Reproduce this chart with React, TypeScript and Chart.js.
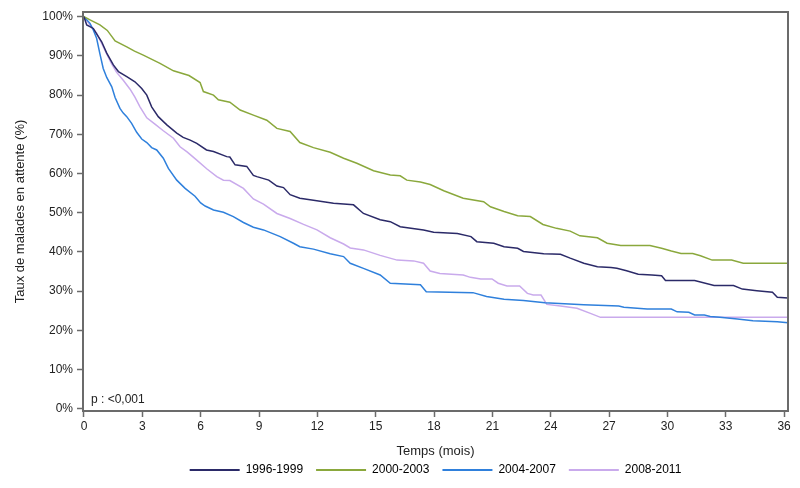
import React, { useEffect, useRef } from 'react';
import Chart from 'chart.js/auto';

// Kaplan-Meier style curves: month -> % still waiting
const months1996 = [0, 0.14, 0.48, 0.74, 0.91, 1.17, 1.51, 1.77, 2.2, 2.62, 2.97, 3.23, 3.48, 3.82, 4.26, 4.77, 5.1, 5.46, 5.8, 6.3, 6.66, 7.34, 7.5, 7.77, 8.37, 8.71, 8.89, 9.5, 9.92, 10.26, 10.6, 11.1, 11.8, 12.83, 13.86, 14.37, 15.23, 15.75, 16.26, 17.46, 17.98, 19.2, 19.9, 20.2, 21.07, 21.6, 22.3, 22.6, 23.64, 24.5, 25.0, 25.7, 26.4, 27.1, 27.4, 27.9, 28.5, 29.2, 29.7, 29.9, 31.4, 32.4, 33.4, 33.85, 34.6, 35.4, 35.65, 36.2];
const pct1996 = [100, 97.9, 97.0, 94.9, 93.6, 90.7, 87.7, 86.0, 84.7, 83.4, 81.7, 80.0, 77.0, 74.5, 72.4, 70.3, 69.2, 68.5, 67.7, 66.0, 65.6, 64.3, 64.2, 62.2, 61.8, 59.5, 59.2, 58.3, 56.8, 56.4, 54.6, 53.7, 53.2, 52.4, 52.0, 49.8, 48.2, 47.7, 46.4, 45.6, 45.0, 44.7, 43.9, 42.6, 42.2, 41.3, 40.9, 40.1, 39.5, 39.4, 38.4, 37.1, 36.2, 36.0, 35.8, 35.2, 34.3, 34.1, 33.9, 32.7, 32.7, 31.4, 31.4, 30.5, 30.1, 29.7, 28.4, 28.2];

const months2000 = [0, 0.31, 0.82, 1.2, 1.6, 2.2, 2.6, 3.05, 3.91, 4.6, 5.4, 5.97, 6.14, 6.66, 6.91, 7.5, 8.03, 8.71, 9.4, 9.92, 10.6, 11.1, 11.8, 12.66, 13.35, 14.03, 14.89, 15.75, 16.26, 16.6, 17.3, 17.8, 18.5, 19.5, 20.55, 20.9, 21.6, 22.3, 22.95, 23.6, 24.3, 25.0, 25.5, 26.4, 26.9, 27.6, 29.1, 29.7, 30.2, 30.7, 31.3, 31.7, 32.3, 33.3, 33.9, 36.2];
const pct2000 = [100, 99.2, 97.9, 96.5, 93.8, 92.3, 91.2, 90.2, 88.1, 86.2, 85.0, 83.2, 80.9, 80.0, 78.8, 78.2, 76.2, 74.9, 73.6, 71.5, 70.7, 67.9, 66.6, 65.4, 63.9, 62.6, 60.7, 59.6, 59.4, 58.3, 57.8, 57.2, 55.6, 53.7, 52.8, 51.5, 50.3, 49.2, 49.0, 47.0, 46.0, 45.3, 44.1, 43.6, 42.2, 41.6, 41.6, 40.9, 40.2, 39.6, 39.6, 39.0, 37.9, 37.9, 37.1, 37.1];

const months2004 = [0, 0.31, 0.48, 0.65, 0.82, 0.99, 1.17, 1.43, 1.6, 1.85, 2.02, 2.2, 2.45, 2.71, 2.97, 3.23, 3.48, 3.74, 4.08, 4.34, 4.77, 5.2, 5.71, 6.0, 6.23, 6.66, 7.17, 7.68, 8.2, 8.71, 9.23, 10.09, 10.77, 11.1, 11.8, 12.66, 13.35, 13.69, 14.37, 15.23, 15.75, 17.3, 17.6, 20.0, 20.7, 21.6, 22.6, 23.7, 25.7, 27.5, 27.76, 28.96, 30.2, 30.5, 31.1, 31.4, 31.9, 32.2, 32.7, 33.6, 34.4, 35.65, 36.2];
const pct2004 = [100, 98.3, 96.6, 94.5, 90.5, 86.8, 84.5, 82.1, 79.4, 76.6, 75.4, 74.5, 72.8, 70.5, 68.8, 67.9, 66.6, 66.0, 63.9, 61.3, 58.3, 56.2, 54.2, 52.5, 51.7, 50.7, 50.1, 49.0, 47.5, 46.3, 45.6, 43.9, 42.2, 41.3, 40.7, 39.5, 38.8, 37.1, 35.8, 34.1, 32.0, 31.6, 29.8, 29.6, 28.6, 27.9, 27.6, 27.0, 26.5, 26.2, 25.9, 25.4, 25.4, 24.7, 24.6, 23.9, 23.9, 23.5, 23.3, 22.9, 22.4, 22.2, 21.9];

const months2008 = [0, 0.31, 0.65, 0.91, 1.17, 1.43, 1.68, 2.02, 2.37, 2.62, 2.88, 3.23, 3.65, 4.08, 4.6, 4.94, 5.3, 5.71, 6.31, 6.83, 7.17, 7.5, 8.2, 8.71, 9.23, 9.92, 10.6, 11.29, 11.98, 12.66, 13.35, 13.69, 14.37, 15.23, 16.1, 16.95, 17.46, 17.8, 18.3, 19.5, 19.87, 20.4, 20.98, 21.3, 21.75, 22.4, 22.8, 23.1, 23.5, 23.8, 24.5, 25.35, 26.04, 26.56, 36.2];
const pct2008 = [100, 97.9, 95.8, 93.2, 90.5, 87.9, 85.8, 83.8, 81.5, 79.5, 77.0, 74.2, 72.6, 70.9, 69.0, 66.8, 65.5, 63.8, 61.2, 59.2, 58.3, 58.2, 56.2, 53.5, 52.2, 49.8, 48.5, 47.0, 45.6, 43.6, 42.0, 41.0, 40.5, 39.1, 37.9, 37.7, 37.1, 35.1, 34.5, 34.1, 33.5, 33.1, 33.1, 32.0, 31.3, 31.3, 29.4, 29.0, 29.0, 26.6, 26.2, 25.6, 24.3, 23.3, 23.3];

const seriesLabels = ['1996-1999', '2000-2003', '2004-2007', '2008-2011'];
const seriesMonths = [months1996, months2000, months2004, months2008];
const seriesPct = [pct1996, pct2000, pct2004, pct2008];
const seriesColors = ['#2b2a68', '#8aa83c', '#2f80dc', '#c9aaec'];

const xTickValues = [0, 3, 6, 9, 12, 15, 18, 21, 24, 27, 30, 33, 36];
const yTickValues = [0, 10, 20, 30, 40, 50, 60, 70, 80, 90, 100];
const pValueText = 'p : <0,001';

const FONT = '"Liberation Sans", Arial, sans-serif';
const AXIS_GREY = '#6b6b6b';
const TEXT = '#222222';

// frame around the plot + p-value note
const framePlugin = {
    id: 'frame',
    afterDatasetsDraw(chart: any) {
        const { ctx, chartArea } = chart;
        const { left, top, right, bottom } = chartArea;
        ctx.save();
        ctx.strokeStyle = AXIS_GREY;
        ctx.lineWidth = 2;
        ctx.strokeRect(left, top, right - left, bottom - top);
        ctx.fillStyle = TEXT;
        ctx.font = `12px ${FONT}`;
        ctx.textBaseline = 'middle';
        ctx.textAlign = 'left';
        ctx.fillText(pValueText, left + 8, bottom - 11);
        ctx.restore();
    },
};

export default function App() {
    const canvasRef = useRef<HTMLCanvasElement | null>(null);

    useEffect(() => {
        const canvas = canvasRef.current;
        if (!canvas) return;

        const chart = new Chart(canvas, {
            type: 'line',
            data: {
                datasets: seriesLabels.map((label, i) => ({
                    label,
                    data: seriesMonths[i].map((m, j) => ({ x: m, y: seriesPct[i][j] })),
                    borderColor: seriesColors[i],
                    backgroundColor: seriesColors[i],
                    borderWidth: 1.5,
                    pointRadius: 0,
                    tension: 0,
                    fill: false,
                })),
            },
            options: {
                animation: false,
                responsive: true,
                maintainAspectRatio: false,
                layout: { padding: { left: 0, right: 12, top: 12, bottom: 2 } },
                scales: {
                    x: {
                        type: 'linear',
                        min: -0.05,
                        max: 36.2,
                        afterBuildTicks: (axis: any) => {
                            axis.ticks = xTickValues.map((v) => ({ value: v }));
                        },
                        afterFit: (axis: any) => {
                            axis.height = 40;
                        },
                        ticks: {
                            font: { family: FONT, size: 12 },
                            color: TEXT,
                            padding: 2,
                            maxRotation: 0,
                            autoSkip: false,
                            callback: (v: any) => String(v),
                        },
                        grid: { drawOnChartArea: false, drawTicks: true, tickLength: 6, color: AXIS_GREY, tickWidth: 1.5 },
                        border: { display: false },
                        title: {
                            display: true,
                            text: 'Temps (mois)',
                            color: TEXT,
                            font: { family: FONT, size: 13 },
                            padding: { top: 0, bottom: -8 },
                        },
                    },
                    y: {
                        type: 'linear',
                        min: -0.6,
                        max: 101.2,
                        afterBuildTicks: (axis: any) => {
                            axis.ticks = yTickValues.map((v) => ({ value: v }));
                        },
                        afterFit: (axis: any) => {
                            axis.width = 83;
                        },
                        ticks: {
                            font: { family: FONT, size: 12 },
                            color: TEXT,
                            padding: 4,
                            callback: (v: any) => `${v}%`,
                        },
                        grid: { drawOnChartArea: false, drawTicks: true, tickLength: 6, color: AXIS_GREY, tickWidth: 1.5 },
                        border: { display: false },
                        title: {
                            display: true,
                            text: 'Taux de malades en attente (%)',
                            color: TEXT,
                            font: { family: FONT, size: 13 },
                            padding: { top: 13, bottom: 0 },
                        },
                    },
                },
                plugins: {
                    legend: {
                        position: 'bottom',
                        fullSize: false,
                        labels: {
                            boxWidth: 50,
                            boxHeight: 2,
                            padding: 13,
                            color: TEXT,
                            font: { family: FONT, size: 12 },
                            generateLabels: () =>
                                seriesLabels.map((text, i) => ({
                                    text,
                                    fillStyle: seriesColors[i],
                                    strokeStyle: seriesColors[i],
                                    lineWidth: 0,
                                    hidden: false,
                                    datasetIndex: i,
                                })),
                        },
                    },
                    tooltip: { enabled: false },
                },
            },
            plugins: [framePlugin],
        });

        return () => {
            chart.destroy();
        };
    }, []);

    return (
        <div style={{ position: 'fixed', left: 0, top: 0, width: 800, height: 488, background: '#fff' }}>
            <canvas ref={canvasRef} />
        </div>
    );
}
